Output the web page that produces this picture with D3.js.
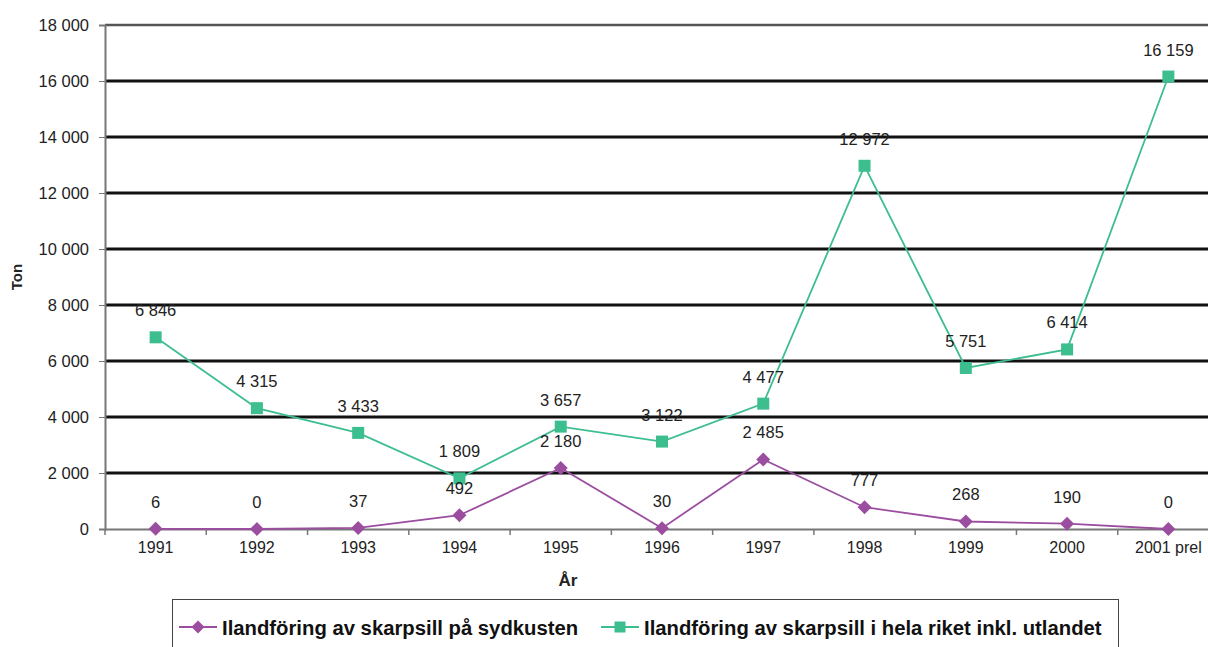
<!DOCTYPE html>
<html><head><meta charset="utf-8">
<script src="https://cdn.jsdelivr.net/npm/d3@7"></script>
<style>body{margin:0;background:#fff}svg{display:block;font-family:"Liberation Sans",Arial,sans-serif}</style>
</head><body><svg id="c" width="1208" height="647"></svg>
<script>
const categories = ["1991","1992","1993","1994","1995","1996","1997","1998","1999","2000","2001 prel"];
const sydkusten = [6,0,37,492,2180,30,2485,777,268,190,0];
const helaRiket = [6846,4315,3433,1809,3657,3122,4477,12972,5751,6414,16159];
const yTicks = [0,2000,4000,6000,8000,10000,12000,14000,16000,18000];
const seriesNames = ["Ilandföring av skarpsill på sydkusten","Ilandföring av skarpsill i hela riket inkl. utlandet"];
const colors = ["#9B4DA0","#3DBE8E"];

const svg = d3.select("#c");
const L=105,R=1219,T=25,B=529;
const x = d3.scaleBand().domain(categories).range([L,R]);
const y = d3.scaleLinear().domain([0,18000]).range([B,T]);
const fmt = v => d3.format(",")(v).replace(/,/g," ");
const diamond = r => `M0,${-r}L${r},0L0,${r}L${-r},0Z`;

// gridlines
svg.append("g").selectAll("line").data(yTicks.filter(d=>d>0&&d<18000)).join("line")
  .attr("x1",L).attr("x2",R).attr("y1",d=>y(d)).attr("y2",d=>y(d))
  .attr("stroke","#111").attr("stroke-width",3);
svg.append("line").attr("x1",L).attr("x2",R).attr("y1",y(18000)).attr("y2",y(18000))
  .attr("stroke","#555").attr("stroke-width",2.5);

// y axis
const ya = svg.append("g").attr("transform",`translate(${L},0)`)
  .call(d3.axisLeft(y).tickValues(yTicks).tickFormat(fmt).tickSize(6).tickPadding(10));
ya.select(".domain").attr("stroke","#777").attr("stroke-width",2);
ya.selectAll(".tick line").attr("stroke","#777");
ya.selectAll("text").attr("font-size",16.5).attr("fill","#222").style("font-family","Liberation Sans, Arial, sans-serif");

// x axis
const xa = svg.append("g").attr("transform",`translate(0,${B})`)
  .call(d3.axisBottom(x).tickSizeOuter(0).tickSize(0).tickPadding(13));
xa.select(".domain").attr("stroke","#777").attr("stroke-width",2);
xa.selectAll("text").attr("font-size",16).attr("fill","#222").style("font-family","Liberation Sans, Arial, sans-serif");
svg.append("g").selectAll("line").data(categories.map((c,i)=>i)).join("line")
  .attr("x1",i=>L+i*x.step()).attr("x2",i=>L+i*x.step())
  .attr("y1",B).attr("y2",B+6).attr("stroke","#777").attr("stroke-width",1.5);

// axis titles
svg.append("text").attr("transform",`translate(22,${(T+B)/2}) rotate(-90)`).attr("text-anchor","middle")
  .attr("font-size",15).attr("font-weight","bold").attr("fill","#222").text("Ton");
svg.append("text").attr("x",568).attr("y",586).attr("text-anchor","middle")
  .attr("font-size",17).attr("font-weight","bold").attr("fill","#222").text("År");

const cx = c => x(c)+x.bandwidth()/2;
const line = d3.line().x((d,i)=>cx(categories[i])).y(d=>y(d));
const data = [sydkusten, helaRiket];

data.forEach((vals,s)=>{
  svg.append("path").datum(vals).attr("d",line).attr("fill","none")
    .attr("stroke",colors[s]).attr("stroke-width",1.8);
});
// markers
svg.append("g").selectAll("path").data(sydkusten).join("path")
  .attr("transform",(d,i)=>`translate(${cx(categories[i])},${y(d)})`)
  .attr("d",diamond(7)).attr("fill",colors[0]);
svg.append("g").selectAll("rect").data(helaRiket).join("rect")
  .attr("x",(d,i)=>cx(categories[i])-6).attr("y",d=>y(d)-6).attr("width",12).attr("height",12)
  .attr("fill",colors[1]);
// labels
data.forEach((vals,s)=>{
  svg.append("g").selectAll("text").data(vals).join("text")
    .attr("x",(d,i)=>cx(categories[i])).attr("y",d=>y(d)-21)
    .attr("text-anchor","middle").attr("font-size",16.5).attr("fill","#222").text(fmt);
});

// legend
const lg = svg.append("g");
lg.append("rect").attr("x",172.5).attr("y",599.5).attr("width",946).attr("height",60)
  .attr("fill","#fff").attr("stroke","#444").attr("stroke-width",1);
const items=[{x:179,tx:222},{x:601,tx:644}];
items.forEach((it,s)=>{
  lg.append("line").attr("x1",it.x).attr("x2",it.x+38).attr("y1",627).attr("y2",627)
    .attr("stroke",colors[s]).attr("stroke-width",1.8);
  if(s===0) lg.append("path").attr("transform",`translate(${it.x+19},627)`)
    .attr("d",diamond(6.5)).attr("fill",colors[0]);
  else lg.append("rect").attr("x",it.x+13.5).attr("y",621.5).attr("width",11).attr("height",11).attr("fill",colors[1]);
  lg.append("text").attr("x",it.tx).attr("y",634.5).attr("font-size",20.3).attr("font-weight","bold")
    .attr("fill","#111").text(seriesNames[s]);
});
</script></body></html>
